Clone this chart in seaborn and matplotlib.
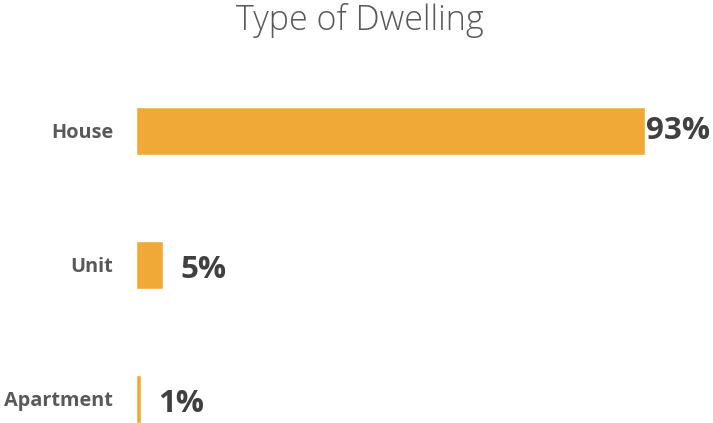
import matplotlib
matplotlib.use("Agg")
import matplotlib.pyplot as plt
import seaborn as sns
import pandas as pd

categories = ["House", "Unit", "Apartment"]
values = [93, 5, 1]
labels = ["93%", "5%", "1%"]

df = pd.DataFrame({"type": categories, "pct": values})

sns.set_style("white")
plt.rcParams['font.family'] = ['Open Sans', 'DejaVu Sans']

fig = plt.figure(figsize=(7.13, 4.23), dpi=100)
ax = fig.add_axes([136/713, 0, 547/713, (423-64)/423])
sns.barplot(data=df, x="pct", y="type", color="#F0A836", width=0.36,
            saturation=1, ax=ax, orient="h")
ax.set_xlim(0, 100)
ax.set_ylim(2.18, -0.5)
# label offsets (points) for the data labels, style only
label_dx = [1, 12, 12]
label_dy = [0, -4, -4]
for i, (v, lab) in enumerate(zip(values, labels)):
    ax.annotate(lab, xy=(v, i), xytext=(label_dx[i], label_dy[i]),
                textcoords="offset points", va="center", ha="left",
                fontsize=22.5, fontweight="bold", color="#404040")
ax.set_xlabel("")
ax.set_ylabel("")
ax.set_xticks([])
ax.tick_params(axis="y", length=0, pad=16.5)
for t in ax.get_yticklabels():
    t.set_fontsize(14.3)
    t.set_fontweight("bold")
    t.set_color("#595959")
for s in ax.spines.values():
    s.set_visible(False)
fig.text(360/713, 1 - 21/423, "Type of Dwelling", ha="center", va="center",
         fontsize=24.5, fontweight="light", color="#595959")
fig.savefig("out.png", dpi=100)
